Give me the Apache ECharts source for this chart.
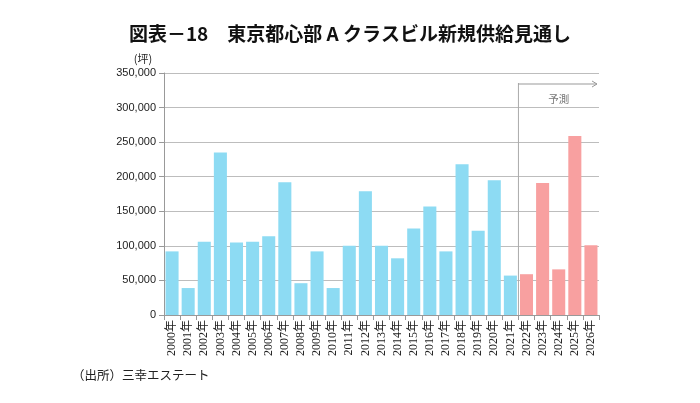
<!DOCTYPE html>
<html><head><meta charset="utf-8">
<script src="https://cdn.jsdelivr.net/npm/echarts@6/dist/echarts.min.js"></script>
<style>html,body{margin:0;padding:0;background:#fff}#c{width:700px;height:403px}</style>
</head><body><div id="c"></div>
<script>
const categories = ['2000年','2001年','2002年','2003年','2004年','2005年','2006年','2007年','2008年','2009年','2010年','2011年','2012年','2013年','2014年','2015年','2016年','2017年','2018年','2019年','2020年','2021年','2022年','2023年','2024年','2025年','2026年'];
const actualValues = [92000,39000,106000,235000,105000,106000,114000,192000,46000,92000,39000,100000,179000,100000,82000,125000,157000,92000,218000,122000,195000,57000,null,null,null,null,null];
const forecastValues = [null,null,null,null,null,null,null,null,null,null,null,null,null,null,null,null,null,null,null,null,null,null,59000,191000,66000,259000,101000];
const yTicks = [0,50000,100000,150000,200000,250000,300000,350000];
const titleText = '図表－18　東京都心部 A クラスビル新規供給見通し';
const unitText = '(坪)';
const sourceText = '（出所）三幸エステート';
const forecastLabel = '予測';
const forecastStart = '2022年';

const chart = echarts.init(document.getElementById('c'), null, {renderer:'canvas'});
const jp = '"Noto Sans CJK JP", "Liberation Sans", sans-serif';
chart.setOption({
  animation:false,
  backgroundColor:'#fff',
  title:{text:titleText,left:'center',top:19,textStyle:{fontFamily:jp,fontSize:19,fontWeight:'bold',color:'#111'}},
  grid:{left:164,right:101,top:73,bottom:88},
  xAxis:{type:'category',data:categories,
    axisLine:{lineStyle:{color:'#999'}},
    axisTick:{show:true,length:5,lineStyle:{color:'#999'}},
    axisLabel:{rotate:90,fontSize:12,color:'#222',margin:5,fontFamily:'"Liberation Serif", "Noto Sans CJK JP", serif'}},
  yAxis:{type:'value',min:yTicks[0],max:yTicks[yTicks.length-1],interval:50000,
    name:unitText,nameLocation:'end',nameGap:9,nameTextStyle:{fontSize:11,color:'#222',fontFamily:jp,align:'center',padding:[0,0,0,-42]},
    axisLine:{show:true,lineStyle:{color:'#999'}},
    axisTick:{show:true,length:5,lineStyle:{color:'#999'}},
    splitLine:{lineStyle:{color:'#bdbdbd'}},
    axisLabel:{fontSize:11,color:'#222',margin:8,fontFamily:'"Liberation Sans", sans-serif',
      formatter:v=>v.toLocaleString('en-US')}},
  series:[
    {type:'bar',data:actualValues,stack:'s',barWidth:'81%',itemStyle:{color:'#8ddbf3'}},
    {type:'bar',data:forecastValues,stack:'s',barWidth:'81%',itemStyle:{color:'#f8a0a0'}}
  ]
});
const i = categories.indexOf(forecastStart);
const x1 = chart.convertToPixel({xAxisIndex:0}, categories[i-1]);
const x2 = chart.convertToPixel({xAxisIndex:0}, categories[i]);
const bx = (x1+x2)/2;
const y0 = chart.convertToPixel({yAxisIndex:0}, 0);
const gEnd = chart.convertToPixel({xAxisIndex:0}, categories[categories.length-1]) + (x2-x1)/2;
const yArrow = 84;
chart.setOption({graphic:[
  {type:'text',left:72,top:369,style:{text:sourceText,fontSize:12.5,fill:'#222',fontFamily:jp}},
  {type:'line',shape:{x1:bx,y1:yArrow-1,x2:bx,y2:y0},style:{stroke:'#aaa',lineWidth:1}},
  {type:'line',shape:{x1:bx,y1:yArrow,x2:gEnd-2,y2:yArrow},style:{stroke:'#999',lineWidth:1}},
  {type:'polyline',shape:{points:[[gEnd-7,yArrow-3],[gEnd-2,yArrow],[gEnd-7,yArrow+3]]},style:{stroke:'#999',lineWidth:1,fill:null}},
  {type:'text',x:(bx+gEnd)/2,y:99,style:{text:forecastLabel,fontSize:10.5,fill:'#777',fontFamily:jp,align:'center',verticalAlign:'middle'}}
]});
</script></body></html>
